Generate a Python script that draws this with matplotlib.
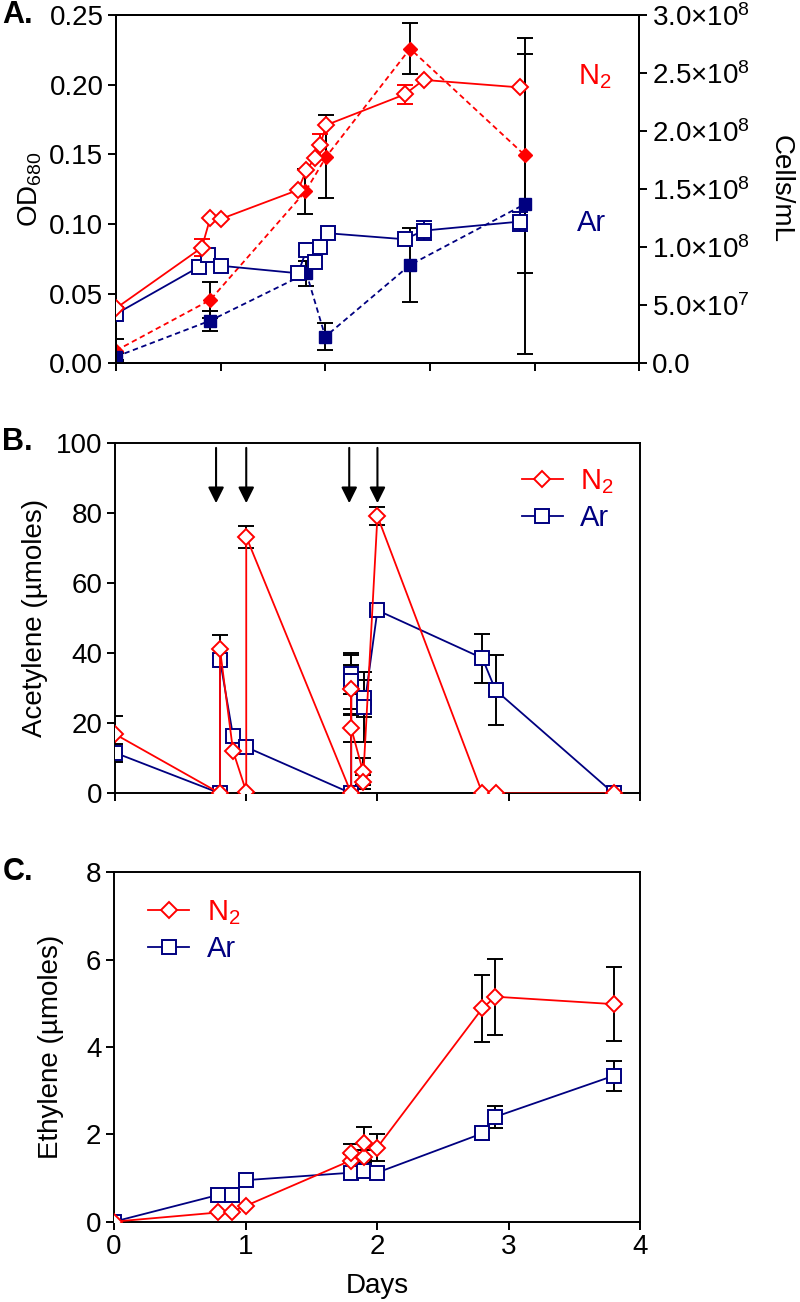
import numpy as np
import matplotlib
matplotlib.use("Agg")
import matplotlib.pyplot as plt

plt.rcParams['font.family'] = ['Liberation Sans', 'DejaVu Sans']
plt.rcParams['mathtext.fontset'] = 'custom'
plt.rcParams['mathtext.rm'] = 'Liberation Sans'
plt.rcParams['mathtext.it'] = 'Liberation Sans:italic'
plt.rcParams['mathtext.bf'] = 'Liberation Sans:bold'
plt.rcParams['mathtext.default'] = 'regular'

RED = '#ff0000'
NAVY = '#000080'

# ---------------- Panel A data ----------------
a_days_od_n2 = [0, 0.82, 0.90, 1.0, 1.74, 1.82, 1.90, 1.95, 2.01, 2.76, 2.94, 3.86]
a_od_n2 = [0.0395, 0.083, 0.104, 0.1035, 0.1244, 0.1388, 0.147, 0.1567, 0.171, 0.193, 0.2034, 0.198]
a_od_n2_err = [0, 0.006, 0, 0, 0, 0, 0, 0.0077, 0, 0.0066, 0, 0]

a_days_od_ar = [0, 0.79, 0.88, 1.0, 1.74, 1.82, 1.90, 1.95, 2.03, 2.76, 2.94, 3.86]
a_od_ar = [0.0354, 0.069, 0.078, 0.070, 0.0646, 0.0813, 0.073, 0.0837, 0.0933, 0.089, 0.0952, 0.1017]
a_od_ar_err = [0, 0.003, 0, 0, 0, 0, 0, 0, 0, 0, 0.0067, 0.007]

a_days_cells_n2 = [0, 0.90, 1.81, 2.01, 2.81, 3.91]
a_cells_n2 = [1.09e7, 5.45e7, 1.48e8, 1.78e8, 2.71e8, 1.79e8]
a_cells_n2_err = [9.8e6, 1.58e7, 1.95e7, 3.6e7, 2.2e7, 1.01e8]

a_days_cells_ar = [0, 0.90, 1.82, 2.0, 2.81, 3.91]
a_cells_ar = [5.7e6, 3.67e7, 7.75e7, 2.29e7, 8.47e7, 1.372e8]
a_cells_ar_err = [3e6, 8.6e6, 1.1e7, 1.15e7, 3.16e7, 1.29e8]

# ---------------- Panel B data ----------------
b_days_n2 = [0, 0.8, 0.8, 0.9, 1.0, 1.0, 1.8, 1.8, 1.8, 1.89, 1.89, 2.0, 2.8, 2.9, 3.8]
b_ace_n2 = [16.9, 0, 41.1, 12.0, 0.5, 73.3, 0, 29.7, 18.6, 6.2, 3.3, 79.2, 0, 0, 0]
b_ace_n2_err = [5.3, 0, 4.0, 0, 0, 3.1, 0, 6.9, 3.8, 3.8, 2.0, 2.6, 0, 0, 0]

b_days_ar = [0, 0.8, 0.8, 0.9, 1.0, 1.8, 1.8, 1.8, 1.9, 1.9, 2.0, 2.8, 2.9, 3.8]
b_ace_ar = [11.6, 0, 38.1, 16.3, 13.2, 0, 34.0, 32.0, 27.1, 24.8, 52.3, 38.6, 29.5, 0]
b_ace_ar_err = [2.6, 0, 1.0, 0, 0, 0, 5.5, 8.0, 5.2, 10.0, 0, 7.0, 9.9, 0]

b_arrow_days = [0.77, 1.0, 1.785, 2.0]
b_arrow_top = 98.7
b_arrow_tip = 82.9

# ---------------- Panel C data ----------------
c_days_n2 = [0, 0.79, 0.9, 1.0, 1.8, 1.8, 1.9, 1.9, 2.0, 2.8, 2.9, 3.8]
c_eth_n2 = [0, 0.21, 0.23, 0.36, 1.40, 1.57, 1.49, 1.79, 1.69, 4.88, 5.15, 4.98]
c_eth_n2_err = [0, 0, 0, 0, 0.15, 0.2, 0.15, 0.38, 0.31, 0.76, 0.87, 0.84]

c_days_ar = [0, 0.79, 0.9, 1.0, 1.8, 1.9, 2.0, 2.8, 2.9, 3.8]
c_eth_ar = [0, 0.61, 0.61, 0.95, 1.12, 1.15, 1.12, 2.02, 2.40, 3.34]
c_eth_ar_err = [0, 0, 0, 0, 0.1, 0.1, 0, 0.15, 0.25, 0.34]

# ---------------- Styling helpers ----------------
TICK_FS = 20
LABEL_FS = 20
LW = 1.3
SPINE_LW = 1.4
MS_D = 8.3
MS_S = 9.8


def errbars(ax, x, y, e, color, z=2):
    x = np.asarray(x, float); y = np.asarray(y, float); e = np.asarray(e, float)
    m = e > 0
    if m.any():
        ax.errorbar(x[m], y[m], yerr=e[m], fmt='none', ecolor=color,
                    elinewidth=1.4, capsize=6, capthick=1.4, zorder=z)


def style_axes(ax):
    for s in ax.spines.values():
        s.set_linewidth(SPINE_LW)
    ax.tick_params(direction='out', length=6, width=1.4, labelsize=TICK_FS, pad=3)


fig = plt.figure(figsize=(8, 13.02), dpi=100)

# ================= Panel A =================
axA = fig.add_axes([0.145, 0.7210, 0.654, 0.2675])
axA2 = axA.twinx()
axA.set_zorder(axA2.get_zorder() + 1)
axA.patch.set_visible(False)

errbars(axA2, a_days_cells_n2, a_cells_n2, a_cells_n2_err, 'black')
errbars(axA2, a_days_cells_ar, a_cells_ar, a_cells_ar_err, 'black')
axA2.plot(a_days_cells_n2, a_cells_n2, color=RED, lw=LW, dashes=(3, 2),
          marker='D', ms=7.5, mfc=RED, mec=RED, zorder=3)
axA2.plot(a_days_cells_ar, a_cells_ar, color=NAVY, lw=LW, dashes=(3, 2),
          marker='s', ms=9, mfc=NAVY, mec=NAVY, zorder=3)

errbars(axA, a_days_od_n2, a_od_n2, a_od_n2_err, RED)
errbars(axA, a_days_od_ar, a_od_ar, a_od_ar_err, NAVY)
axA.plot(a_days_od_ar, a_od_ar, color=NAVY, lw=LW, marker='s', ms=MS_S,
         mfc='white', mec=NAVY, mew=1.4, zorder=3)
axA.plot(a_days_od_n2, a_od_n2, color=RED, lw=LW, marker='D', ms=MS_D,
         mfc='white', mec=RED, mew=1.4, zorder=4)

axA.set_xlim(0, 5)
axA.set_ylim(0, 0.25)
axA.set_xticks([0, 1, 2, 3, 4, 5])
axA.set_xticklabels([])
axA.set_yticks([0, 0.05, 0.10, 0.15, 0.20, 0.25])
axA.set_yticklabels(['0.00', '0.05', '0.10', '0.15', '0.20', '0.25'])
axA2.set_ylim(0, 3e8)
axA2.set_yticks([0, 5e7, 1e8, 1.5e8, 2e8, 2.5e8, 3e8])
axA2.set_yticklabels(['0.0', r'$5.0{\times}10^{7}$', r'$1.0{\times}10^{8}$',
                      r'$1.5{\times}10^{8}$', r'$2.0{\times}10^{8}$',
                      r'$2.5{\times}10^{8}$', r'$3.0{\times}10^{8}$'])
style_axes(axA)
style_axes(axA2)
axA.set_ylabel(r'OD$_{680}$', fontsize=LABEL_FS, labelpad=4)
axA2.set_ylabel('Cells/mL', fontsize=LABEL_FS, rotation=270, labelpad=32)
axA.text(0.916, 0.823, r'N$_2$', color=RED, fontsize=21, transform=axA.transAxes,
         ha='center', va='center')
axA.text(0.909, 0.403, 'Ar', color=NAVY, fontsize=21, transform=axA.transAxes,
         ha='center', va='center')

# ================= Panel B =================
axB = fig.add_axes([0.1438, 0.3907, 0.656, 0.2688])
errbars(axB, b_days_n2, b_ace_n2, b_ace_n2_err, 'black')
errbars(axB, b_days_ar, b_ace_ar, b_ace_ar_err, 'black')
axB.plot(b_days_ar, b_ace_ar, color=NAVY, lw=LW, marker='s', ms=MS_S,
         mfc='white', mec=NAVY, mew=1.4, zorder=3, label='Ar')
axB.plot(b_days_n2, b_ace_n2, color=RED, lw=LW, marker='D', ms=MS_D,
         mfc='white', mec=RED, mew=1.4, zorder=4, label=r'N$_2$')
for d in b_arrow_days:
    axB.annotate('', xy=(d, b_arrow_tip), xytext=(d, b_arrow_top),
                 arrowprops=dict(arrowstyle='-|>', mutation_scale=24, lw=1.5,
                                 color='black', shrinkA=0, shrinkB=0))
axB.set_xlim(0, 4)
axB.set_ylim(0, 100)
axB.set_xticks([0, 1, 2, 3, 4])
axB.set_xticklabels([])
axB.set_yticks([0, 20, 40, 60, 80, 100])
style_axes(axB)
axB.set_ylabel('Acetylene (µmoles)', fontsize=LABEL_FS, labelpad=6)
h, l = axB.get_legend_handles_labels()
axB.legend(h[::-1], l[::-1], loc='upper left', bbox_to_anchor=(0.775, 0.932),
           frameon=False, fontsize=21, labelcolor=[RED, NAVY], handlelength=1.4,
           handletextpad=0.6, borderpad=0, borderaxespad=0, labelspacing=0.28)

# ================= Panel C =================
axC = fig.add_axes([0.1425, 0.0617, 0.6575, 0.2684])
errbars(axC, c_days_n2, c_eth_n2, c_eth_n2_err, 'black')
errbars(axC, c_days_ar, c_eth_ar, c_eth_ar_err, 'black')
axC.plot(c_days_ar, c_eth_ar, color=NAVY, lw=LW, marker='s', ms=MS_S,
         mfc='white', mec=NAVY, mew=1.4, zorder=3, label='Ar')
axC.plot(c_days_n2, c_eth_n2, color=RED, lw=LW, marker='D', ms=MS_D,
         mfc='white', mec=RED, mew=1.4, zorder=4, label=r'N$_2$')
axC.set_xlim(0, 4)
axC.set_ylim(0, 8)
axC.set_xticks([0, 1, 2, 3, 4])
axC.set_yticks([0, 2, 4, 6, 8])
style_axes(axC)
axC.set_ylabel('Ethylene (µmoles)', fontsize=LABEL_FS, labelpad=16)
axC.set_xlabel('Days', fontsize=LABEL_FS, labelpad=9)
h, l = axC.get_legend_handles_labels()
axC.legend(h[::-1], l[::-1], loc='upper left', bbox_to_anchor=(0.065, 0.926),
           frameon=False, fontsize=21, labelcolor=[RED, NAVY], handlelength=1.4,
           handletextpad=0.6, borderpad=0, borderaxespad=0, labelspacing=0.28)

# Panel letters
fig.text(0.003, 1 - 15 / 1302, 'A.', fontsize=22, fontweight='bold', va='center', ha='left')
fig.text(0.003, 1 - 442 / 1302, 'B.', fontsize=22, fontweight='bold', va='center', ha='left')
fig.text(0.003, 1 - 872 / 1302, 'C.', fontsize=22, fontweight='bold', va='center', ha='left')

fig.savefig('out.png', dpi=100)
